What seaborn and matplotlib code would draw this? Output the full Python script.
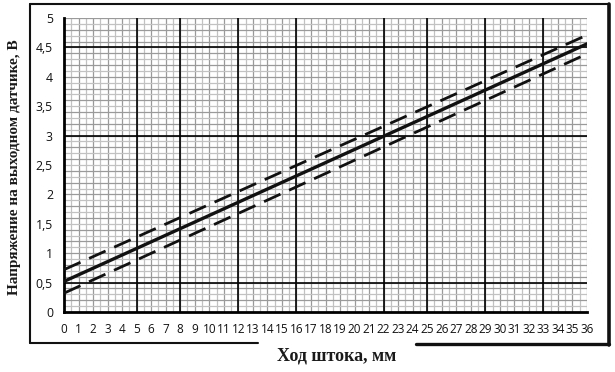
import numpy as np
import pandas as pd
import matplotlib
matplotlib.use("Agg")
import matplotlib.pyplot as plt
from matplotlib.lines import Line2D
import seaborn as sns

# ---- data ----
stroke_mm = [0, 36]
nominal_v = [0.52, 4.56]
upper_v = [0.72, 4.71]
lower_v = [0.32, 4.39]

x_ticks = list(range(0, 37))
y_ticks = [0, 0.5, 1, 1.5, 2, 2.5, 3, 3.5, 4, 4.5, 5]
y_tick_labels = ["0", "0,5", "1", "1,5", "2", "2,5", "3", "3,5", "4", "4,5", "5"]
major_x_lines = [5, 8, 12, 16, 22, 25, 29, 33]
major_y_lines = [0.5, 3, 4.5]

xlabel = "Ход штока, мм"
ylabel = "Напряжение на выходном датчике, В"

sns.set_style("white")
plt.rcParams["font.family"] = ["Open Sans", "DejaVu Sans"]

fig = plt.figure(figsize=(6.15, 3.72), dpi=100)
W, H = 615, 372
ax = fig.add_axes([64 / W, 1 - 312 / H, (587 - 64) / W, (312 - 18) / H])

# graph-paper grid
for i, xv in enumerate(np.arange(0.5, 36.01, 0.5)):
    ax.axvline(xv, color="#9a9a9a" if i % 2 else "#c2c2c2", lw=0.9, zorder=0)
for i, yv in enumerate(np.arange(0.1, 5.001, 0.1)):
    ax.axhline(yv, color="#9a9a9a" if i % 2 else "#c2c2c2", lw=0.9, zorder=0)
for xv in major_x_lines:
    ax.axvline(xv, color="black", lw=1.2, zorder=1)
for yv in major_y_lines:
    ax.axhline(yv, color="black", lw=1.2, zorder=1)

df = pd.DataFrame({"x": stroke_mm, "nom": nominal_v, "up": upper_v, "lo": lower_v})
sns.lineplot(data=df, x="x", y="nom", ax=ax, color="#111111", lw=2.4, zorder=3)
sns.lineplot(data=df, x="x", y="up", ax=ax, color="#111111", lw=2.0,
             linestyle=(0, (6.5, 3.4)), zorder=3)
sns.lineplot(data=df, x="x", y="lo", ax=ax, color="#111111", lw=2.0,
             linestyle=(0, (6.5, 3.4)), zorder=3)

ax.set_xlim(0, 36)
ax.set_ylim(0, 5)
ax.set_xticks(x_ticks)
ax.set_xticklabels([str(t) for t in x_ticks], fontsize=8.5)
ax.set_yticks(y_ticks)
ax.set_yticklabels(y_tick_labels, fontsize=8.8)
ax.tick_params(axis="both", direction="out", length=3, width=1.5, color="black",
               pad=5, labelcolor="#111111")
ax.set_xlabel("")
ax.set_ylabel("")
for s in ["top", "right"]:
    ax.spines[s].set_visible(False)
for s in ["left", "bottom"]:
    ax.spines[s].set_color("black")
    ax.spines[s].set_linewidth(2.0)

# axis titles
fig.text(337 / W, 1 - 356 / H, xlabel, ha="center", va="center", fontsize=13,
         fontweight="bold", family=["Liberation Serif", "DejaVu Serif"], color="#1a1a1a")
fig.text(15 / W, 1 - 167 / H, ylabel, ha="center", va="center", rotation=90,
         fontsize=11, fontweight="bold", family=["Liberation Serif", "DejaVu Serif"],
         color="#1a1a1a")

# chart frame
def fl(x0, y0, x1, y1, lw):
    fig.add_artist(Line2D([x0 / W, x1 / W], [1 - y0 / H, 1 - y1 / H],
                          color="#111111", lw=lw, transform=fig.transFigure))

fl(30, 4, 609, 4, 1.5)
fl(30, 4, 30, 343, 1.5)
fl(609, 4, 609, 345, 2.6)
fl(30, 343, 258, 343, 1.5)
fl(416, 344, 609, 344, 2.4)

fig.savefig("out.png", dpi=100)
